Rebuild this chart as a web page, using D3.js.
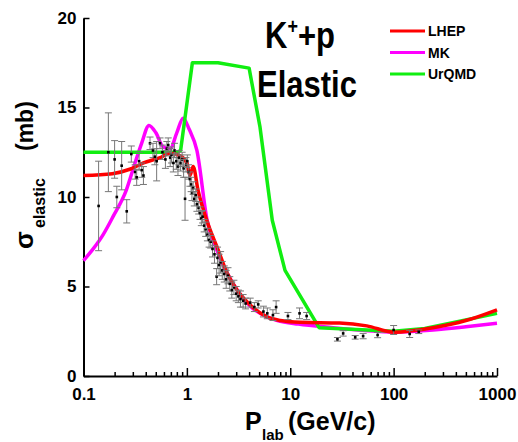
<!DOCTYPE html>
<html>
<head>
<meta charset="utf-8">
<script src="https://cdn.jsdelivr.net/npm/d3@7"></script>
<style>
    body { margin: 0; background: #fff; }
    svg { display: block; font-family: Arial, "Liberation Sans", sans-serif; font-weight: bold; }
</style>
</head>
<body>
<svg id="chart" width="518" height="442"></svg>
<script>

// model curves (P_lab in GeV/c, sigma in mb)
var lhepX = [0.1, 0.19, 0.28, 0.38, 0.55, 0.69, 0.86, 1.0, 1.07, 1.15, 1.28, 1.6, 1.96, 2.45, 3.06, 4.1, 5.96, 8, 12.5, 30, 55, 100, 240, 500, 1000]
var lhepY = [11.2, 11.3, 11.55, 11.9, 12.2, 12.45, 12.3, 11.9, 11.2, 11.7, 10.4, 8.5, 7.2, 5.75, 4.8, 3.97, 3.3, 3.1, 3.0, 2.96, 2.8, 2.45, 2.7, 3.1, 3.7]

var mkX = [0.1, 0.124, 0.155, 0.193, 0.26, 0.315, 0.365, 0.43, 0.5, 0.59, 0.69, 0.8, 0.92, 1.05, 1.25, 1.57, 1.96, 2.45, 3.06, 4.1, 5.96, 7.5, 12, 26, 50, 100, 240, 500, 1000]
var mkY = [6.45, 7.1, 7.9, 8.9, 10.4, 11.9, 13.0, 14.0, 13.6, 12.8, 12.7, 13.6, 14.4, 13.8, 12.6, 8.7, 7.0, 5.75, 4.8, 3.9, 3.3, 3.1, 2.9, 2.7, 2.55, 2.45, 2.57, 2.75, 2.95]

var urqmdX = [0.1, 0.8, 0.87, 1.13, 2.0, 4.0, 5.1, 6.7, 8.9, 19, 100, 200, 1000]
var urqmdY = [12.5, 12.5, 12.6, 17.5, 17.5, 17.2, 13.9, 8.7, 5.9, 2.7, 2.5, 2.65, 3.5]

// experimental points
var expX = [0.14, 0.174, 0.2, 0.21, 0.234, 0.262, 0.29, 0.316, 0.327, 0.345, 0.366, 0.38, 0.44, 0.47, 0.49, 0.51, 0.55, 0.58, 0.62, 0.64, 0.66, 0.69, 0.71, 0.74, 0.76, 0.79, 0.82, 0.84, 0.87, 0.9, 0.93, 0.96, 0.98, 1.01, 1.04, 1.07, 1.1, 1.12, 1.15, 1.18, 1.22, 1.25, 1.3, 1.34, 1.38, 1.42, 1.47, 1.52, 1.58, 1.64, 1.7, 1.77, 1.85, 1.94, 1.98, 2.05, 2.12, 2.2, 2.3, 2.4, 2.5, 2.6, 2.72, 2.85, 3.0, 3.15, 3.3, 3.5, 3.7, 4.1, 4.5, 4.9, 5.5, 6.0, 6.8, 7.3, 9.5, 12.3, 14.4, 28.6, 32.5, 42.5, 50.7, 70, 100, 143, 175]
var expY = [9.5, 12.5, 12.1, 10.0, 11.75, 9.2, 12.4, 11.4, 11.1, 12.0, 11.5, 11.2, 13.0, 12.6, 12.25, 12.0, 13.0, 12.5, 12.1, 12.7, 12.9, 12.2, 12.35, 11.9, 12.6, 12.0, 11.7, 12.2, 11.9, 12.1, 11.6, 9.9, 11.8, 12.0, 11.4, 11.0, 10.7, 10.2, 10.5, 9.9, 10.1, 9.6, 9.4, 9.1, 8.8, 8.9, 8.4, 8.2, 7.9, 7.6, 7.5, 7.1, 6.8, 5.55, 6.6, 6.2, 6.35, 5.9, 5.7, 5.4, 5.6, 5.15, 4.8, 4.95, 4.6, 4.45, 4.3, 4.2, 4.05, 4.1, 3.85, 4.0, 3.6, 3.5, 3.4, 3.85, 3.35, 3.5, 3.35, 2.05, 2.38, 2.16, 2.23, 2.29, 2.57, 2.35, 2.47]
var expErr = [2.5, 2.2, 1.05, 0.6, 1.35, 0.65, 0.45, 0.4, 0.45, 0.5, 0.4, 0.5, 0.35, 0.4, 0.45, 1.1, 0.3, 0.4, 0.5, 0.4, 0.4, 0.5, 0.45, 0.5, 0.4, 0.45, 0.5, 0.4, 0.45, 0.4, 0.5, 1.2, 0.4, 0.35, 0.4, 0.4, 0.4, 0.4, 0.35, 0.4, 0.35, 0.4, 0.35, 0.35, 0.4, 0.35, 0.35, 0.4, 0.35, 0.4, 0.35, 0.45, 0.5, 0.45, 0.6, 0.6, 0.6, 0.5, 0.45, 0.5, 0.45, 0.4, 0.45, 0.4, 0.4, 0.35, 0.45, 0.35, 0.3, 0.25, 0.25, 0.2, 0.3, 0.3, 0.3, 0.35, 0.2, 0.3, 0.2, 0.1, 0.15, 0.1, 0.15, 0.15, 0.25, 0.2, 0.1]

var legendNames = ["LHEP", "MK", "UrQMD"]
var legendColors = ["#ff0000", "#ff00ff", "#11ee11"]

var xTicks = [0.1, 1, 10, 100, 1000]
var yTicks = [0, 5, 10, 15, 20]

var svg = d3.select("#chart")

var x = d3.scaleLog().domain([0.1, 1000]).range([83.5, 497])
var y = d3.scaleLinear().domain([0, 20]).range([376, 18])

// minor ticks 2..9 per decade
var minorTicks = []
for (var d = 0.1; d < 1000; d *= 10) {
    for (var m = 2; m <= 9; m++) minorTicks.push(+(d * m).toPrecision(3))
}

var xAxis = svg.append("g")
    .attr("transform", "translate(0,376)")
    .call(d3.axisBottom(x)
        .tickValues(xTicks.concat(minorTicks))
        .tickSizeInner(-4)
        .tickSizeOuter(0)
        .tickPadding(12)
        .tickFormat(function (v) { return xTicks.indexOf(v) >= 0 ? String(v) : "" }))

xAxis.selectAll(".tick line")
    .attr("y2", function (v) { return xTicks.indexOf(v) >= 0 ? -8 : -4 })
    .attr("stroke-width", 1.5)

var yAxis = svg.append("g")
    .attr("transform", "translate(83.5,0)")
    .call(d3.axisLeft(y)
        .tickValues(yTicks)
        .tickSizeInner(-6)
        .tickSizeOuter(0)
        .tickPadding(7))

yAxis.selectAll(".tick line").attr("stroke-width", 1.5)

svg.selectAll(".domain").attr("stroke-width", 2)
svg.selectAll(".tick text")
    .attr("font-size", 17)
    .attr("font-weight", "bold")
    .attr("font-family", "Arial, 'Liberation Sans', sans-serif")
    .attr("fill", "#000")

// model curves
var curveData = [
    { xs: mkX, ys: mkY, color: legendColors[1], curve: d3.curveMonotoneX },
    { xs: urqmdX, ys: urqmdY, color: legendColors[2], curve: d3.curveLinear },
    { xs: lhepX, ys: lhepY, color: legendColors[0], curve: d3.curveMonotoneX }
]

curveData.forEach(function (c) {
    var line = d3.line()
        .x(function (i) { return x(c.xs[i]) })
        .y(function (i) { return y(c.ys[i]) })
        .curve(c.curve)
    svg.append("path")
        .attr("d", line(d3.range(c.xs.length)))
        .attr("fill", "none")
        .attr("stroke", c.color)
        .attr("stroke-width", 3.5)
        .attr("stroke-linejoin", "round")
})

// experimental points with error bars
var pts = svg.append("g")
    .selectAll("g")
    .data(d3.range(expX.length))
    .enter()
    .append("g")

pts.append("line")
    .attr("x1", function (i) { return x(expX[i]) })
    .attr("x2", function (i) { return x(expX[i]) })
    .attr("y1", function (i) { return y(expY[i] + expErr[i]) })
    .attr("y2", function (i) { return y(expY[i] - expErr[i]) })
    .attr("stroke", "#777")
    .attr("stroke-width", 1)

pts.selectAll(".cap")
    .data(function (i) { return [[i, 1], [i, -1]] })
    .enter()
    .append("line")
    .attr("x1", function (p) { return x(expX[p[0]]) - 3.5 })
    .attr("x2", function (p) { return x(expX[p[0]]) + 3.5 })
    .attr("y1", function (p) { return y(expY[p[0]] + p[1] * expErr[p[0]]) })
    .attr("y2", function (p) { return y(expY[p[0]] + p[1] * expErr[p[0]]) })
    .attr("stroke", "#777")
    .attr("stroke-width", 1)

pts.append("rect")
    .attr("x", function (i) { return x(expX[i]) - 1.3 })
    .attr("y", function (i) { return y(expY[i]) - 1.3 })
    .attr("width", 2.6)
    .attr("height", 2.6)
    .attr("fill", "#000")

// title, stretched a little vertically like the original
var title = svg.append("text")
    .attr("transform", "translate(300,48) scale(1,1.18)")
    .attr("text-anchor", "middle")
    .attr("font-size", 31)
title.append("tspan").text("K")
title.append("tspan").attr("font-size", 18).attr("dy", -12).text("+")
title.append("tspan").attr("dy", 12).text("+p")

svg.append("text")
    .attr("transform", "translate(307,97) scale(1,1.18)")
    .attr("text-anchor", "middle")
    .attr("font-size", 31)
    .text("Elastic")

// legend
var legend = svg.append("g")
    .selectAll("g")
    .data(legendNames)
    .enter()
    .append("g")
    .attr("transform", function (d, i) { return "translate(390," + (31 + i * 21.5) + ")" })

legend.append("line")
    .attr("x1", 0)
    .attr("x2", 35)
    .attr("stroke", function (d, i) { return legendColors[i] })
    .attr("stroke-width", 3)

legend.append("text")
    .attr("x", 38)
    .attr("dy", "0.36em")
    .attr("font-size", 14)
    .text(function (d) { return d })

// axis titles
var yTitle = svg.append("text")
    .attr("transform", "rotate(-90)")
    .attr("font-size", 23)
yTitle.append("tspan").attr("x", -249).attr("y", 33).attr("font-size", 26).text("σ")
yTitle.append("tspan").attr("x", -228).attr("y", 45).attr("font-size", 16).text("elastic")
yTitle.append("tspan").attr("x", -151).attr("y", 33).text("(mb)")

var xTitle = svg.append("text")
    .attr("y", 430)
    .attr("font-size", 25)
xTitle.append("tspan").attr("x", 245).text("P")
xTitle.append("tspan").attr("x", 262).attr("y", 440).attr("font-size", 15).text("lab")
xTitle.append("tspan").attr("x", 288).attr("y", 430).text("(GeV/c)")

</script>
</body>
</html>
